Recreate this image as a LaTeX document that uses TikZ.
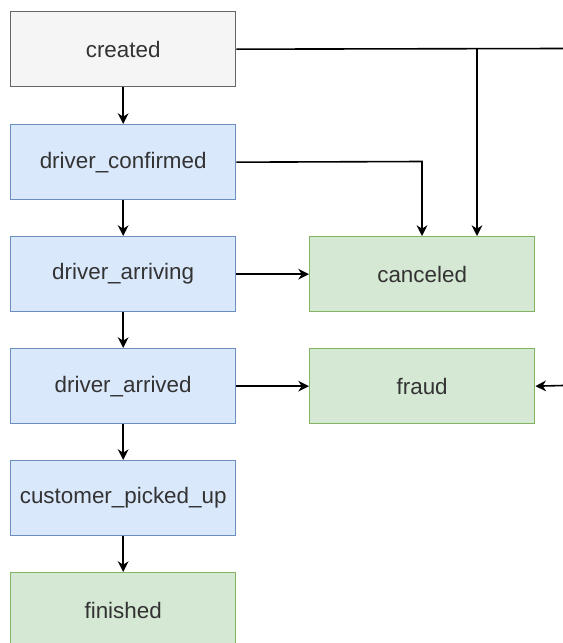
\documentclass[tikz,border=0pt]{standalone}
\usepackage{fontspec}
\setmainfont{Liberation Sans}
\usetikzlibrary{arrows.meta}
\definecolor{grayfill}{HTML}{F5F5F5}
\definecolor{graystroke}{HTML}{666666}
\definecolor{bluefill}{HTML}{DAE8FC}
\definecolor{bluestroke}{HTML}{6C8EBF}
\definecolor{greenfill}{HTML}{D5E8D4}
\definecolor{greenstroke}{HTML}{82B366}
\definecolor{txt}{HTML}{333333}
\tikzset{
  box/.style={draw, line width=1pt, minimum width=168.75pt, minimum height=56.25pt, inner sep=0pt, font=\fontsize{16.8}{19}\selectfont, text=txt, anchor=north west},
  graybox/.style={box, fill=grayfill, draw=graystroke},
  bluebox/.style={box, fill=bluefill, draw=bluestroke},
  greenbox/.style={box, fill=greenfill, draw=greenstroke},
  arr/.style={line width=1.2pt, -{Stealth[length=8pt,width=8pt,inset=2.5pt]}},
  ln/.style={line width=1.2pt}
}
\begin{document}
\begin{tikzpicture}[x=0.75pt,y=-0.75pt]
\useasboundingbox (0,0) rectangle (563,643);
\clip (0,0) rectangle (563,643);
\node[graybox] (created) at (10,11) {created};
\node[bluebox] (confirmed) at (10,124) {driver\_confirmed};
\node[bluebox] (arriving) at (10,236) {driver\_arriving};
\node[bluebox] (arrived) at (10,348) {driver\_arrived};
\node[bluebox] (picked) at (10,460) {customer\_picked\_up};
\node[greenbox] (finished) at (10,572) {finished};
\node[greenbox] (canceled) at (309,236) {canceled};
\node[greenbox] (fraud) at (309,348) {fraud};
\coordinate (offA) at (563,48.5);
\coordinate (jA) at (477,48.5);
\coordinate (offB) at (563,385.5);
\coordinate (kB) at (422,161.5);
\draw[arr] (created) -- (confirmed);
\draw[arr] (confirmed) -- (arriving);
\draw[arr] (arriving) -- (arrived);
\draw[arr] (arrived) -- (picked);
\draw[arr] (picked) -- (finished);
\draw[arr] (arriving) -- (canceled);
\draw[arr] (arrived) -- (fraud);
\draw[ln] (created.east) -- (offA);
\draw[arr] (jA) -- (jA |- canceled.north);
\draw[arr] (confirmed.east) -- (kB) -- (kB |- canceled.north);
\draw[arr] (offB) -- (fraud.east);
\end{tikzpicture}
\end{document}
